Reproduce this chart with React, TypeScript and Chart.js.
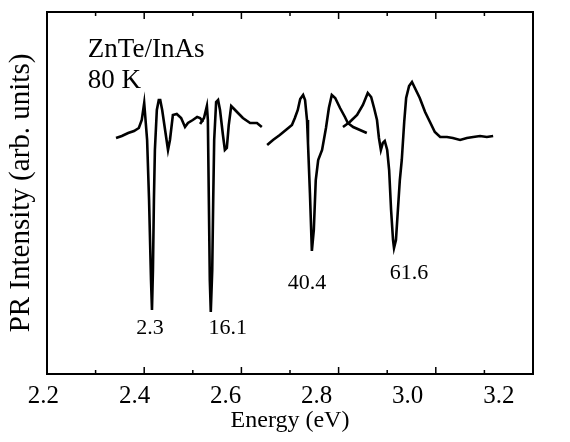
import React, { useEffect, useRef } from 'react';
import { Chart, registerables } from 'chart.js';

Chart.register(...registerables);

// ---- axis ----
const X_MIN = 2.2;
const X_MAX = 3.2;
const X_MINOR_STEP = 0.1;
const X_TICK_LABELS = ['2.2', '2.4', '2.6', '2.8', '3.0', '3.2'];
const LABEL_AXIS_MIN = 2.2077;
const LABEL_AXIS_MAX = 3.2751;
const Y_MIN = 0;
const Y_MAX = 3.62;
const X_TITLE = 'Energy (eV)';
const Y_TITLE = 'PR Intensity (arb. units)';

// ---- spectra (energy in eV, PR intensity in arb. units) ----
const E_2_3 = [2.342, 2.354, 2.367, 2.379, 2.389, 2.395, 2.4, 2.406, 2.41, 2.414, 2.416, 2.418, 2.42, 2.422, 2.426, 2.43, 2.433, 2.437, 2.443, 2.449, 2.453, 2.459, 2.467, 2.476, 2.484, 2.49, 2.5, 2.509, 2.515, 2.521];
const I_2_3 = [2.36, 2.38, 2.41, 2.43, 2.46, 2.54, 2.71, 2.34, 1.74, 0.94, 0.64, 1.04, 1.74, 2.24, 2.64, 2.74, 2.74, 2.64, 2.44, 2.24, 2.34, 2.59, 2.6, 2.56, 2.47, 2.51, 2.54, 2.57, 2.56, 2.52];

const E_16_1 = [2.515, 2.523, 2.529, 2.531, 2.533, 2.535, 2.537, 2.54, 2.542, 2.544, 2.548, 2.552, 2.556, 2.562, 2.566, 2.57, 2.574, 2.579, 2.585, 2.593, 2.603, 2.618, 2.632, 2.642];
const I_16_1 = [2.5, 2.56, 2.68, 2.54, 1.74, 0.94, 0.62, 1.04, 1.74, 2.34, 2.72, 2.74, 2.64, 2.39, 2.24, 2.26, 2.49, 2.68, 2.65, 2.61, 2.56, 2.51, 2.51, 2.47];

const E_40_4 = [2.653, 2.665, 2.679, 2.694, 2.704, 2.71, 2.716, 2.721, 2.727, 2.731, 2.735, 2.737, 2.741, 2.745, 2.749, 2.753, 2.758, 2.766, 2.774, 2.78, 2.786, 2.793, 2.803, 2.813, 2.819, 2.83, 2.844, 2.858];
const I_40_4 = [2.29, 2.34, 2.39, 2.45, 2.49, 2.56, 2.64, 2.75, 2.79, 2.74, 2.54, 2.31, 1.81, 1.23, 1.44, 1.94, 2.14, 2.24, 2.46, 2.66, 2.79, 2.76, 2.66, 2.57, 2.51, 2.47, 2.44, 2.41];

const E_61_6 = [2.809, 2.823, 2.838, 2.85, 2.86, 2.867, 2.873, 2.879, 2.883, 2.887, 2.891, 2.895, 2.9, 2.904, 2.908, 2.912, 2.914, 2.918, 2.922, 2.926, 2.93, 2.935, 2.939, 2.945, 2.951, 2.957, 2.967, 2.978, 2.988, 2.998, 3.009, 3.023, 3.035, 3.05, 3.064, 3.077, 3.091, 3.105, 3.118];
const I_61_6 = [2.47, 2.52, 2.59, 2.69, 2.81, 2.77, 2.66, 2.54, 2.36, 2.24, 2.31, 2.33, 2.24, 2.04, 1.64, 1.34, 1.26, 1.34, 1.64, 1.94, 2.14, 2.52, 2.76, 2.88, 2.92, 2.86, 2.76, 2.62, 2.52, 2.42, 2.37, 2.37, 2.36, 2.34, 2.36, 2.37, 2.38, 2.37, 2.38];

// ---- annotations ----
const SERIES_LABELS = ['2.3', '16.1', '40.4', '61.6'];
const SERIES_LABEL_X = [2.412, 2.572, 2.735, 2.945];
const SERIES_LABEL_Y = [0.46, 0.46, 0.91, 1.01];
const SAMPLE_TEXT = ['ZnTe/InAs', '80 K'];
const SAMPLE_TEXT_X = [2.284, 2.284];
const SAMPLE_TEXT_Y = [3.17, 2.86];

const FONT = '"Liberation Serif", "Times New Roman", serif';

const toPoints = (xs: number[], ys: number[]) => xs.map((x, i) => ({ x, y: ys[i] }));

const framePlugin = {
  id: 'frameAndText',
  afterDatasetsDraw(chart: any) {
    const { ctx, chartArea: a, scales } = chart;
    const xs = scales.x;
    const ys = scales.y;
    ctx.save();
    ctx.strokeStyle = '#000';
    ctx.lineWidth = 2;
    ctx.strokeRect(a.left, a.top, a.right - a.left, a.bottom - a.top);
    ctx.lineWidth = 1.5;
    const n = Math.round((X_MAX - X_MIN) / X_MINOR_STEP);
    for (let i = 1; i < n; i++) {
      const px = xs.getPixelForValue(X_MIN + i * X_MINOR_STEP);
      const len = i % 2 === 0 ? 7 : 4;
      ctx.beginPath();
      ctx.moveTo(px, a.bottom);
      ctx.lineTo(px, a.bottom - len);
      ctx.moveTo(px, a.top);
      ctx.lineTo(px, a.top + len);
      ctx.stroke();
    }
    ctx.fillStyle = '#000';
    ctx.font = `22px ${FONT}`;
    ctx.textAlign = 'center';
    ctx.textBaseline = 'middle';
    SERIES_LABELS.forEach((t, i) => {
      ctx.fillText(t, xs.getPixelForValue(SERIES_LABEL_X[i]), ys.getPixelForValue(SERIES_LABEL_Y[i]));
    });
    ctx.font = `27px ${FONT}`;
    ctx.textAlign = 'left';
    ctx.textBaseline = 'alphabetic';
    SAMPLE_TEXT.forEach((t, i) => {
      ctx.fillText(t, xs.getPixelForValue(SAMPLE_TEXT_X[i]), ys.getPixelForValue(SAMPLE_TEXT_Y[i]));
    });
    ctx.restore();
  },
};

export default function App() {
  const ref = useRef<HTMLCanvasElement | null>(null);
  useEffect(() => {
    document.body.style.margin = '0';
    const canvas = ref.current;
    if (!canvas) return;
    const lineStyle = { borderColor: '#000', borderWidth: 2.6, pointRadius: 0, fill: false, tension: 0 };
    const chart = new Chart(canvas, {
      type: 'line',
      data: {
        datasets: [
          { label: SERIES_LABELS[0], data: toPoints(E_2_3, I_2_3), ...lineStyle },
          { label: SERIES_LABELS[1], data: toPoints(E_16_1, I_16_1), ...lineStyle },
          { label: SERIES_LABELS[2], data: toPoints(E_40_4, I_40_4), ...lineStyle },
          { label: SERIES_LABELS[3], data: toPoints(E_61_6, I_61_6), ...lineStyle },
        ],
      },
      options: {
        animation: false,
        responsive: false,
        maintainAspectRatio: false,
        layout: { padding: { left: 0, right: 37, top: 12, bottom: 0 } },
        plugins: { legend: { display: false }, tooltip: { enabled: false } },
        scales: {
          x: { type: 'linear', min: X_MIN, max: X_MAX, display: false },
          xl: {
            type: 'linear',
            position: 'bottom',
            min: LABEL_AXIS_MIN,
            max: LABEL_AXIS_MAX,
            grid: { display: false, drawTicks: false },
            border: { display: false },
            afterBuildTicks: (s: any) => {
              s.ticks = X_TICK_LABELS.map((t) => ({ value: parseFloat(t) }));
            },
            ticks: {
              autoSkip: false,
              maxRotation: 0,
              padding: 7,
              color: '#000',
              font: { family: FONT, size: 25 },
              callback: (v: any) => Number(v).toFixed(1),
            },
            title: { display: true, text: X_TITLE, color: '#000', font: { family: FONT, size: 24 }, padding: { top: 0, bottom: 7 } },
            afterFit: (s: any) => { s.height = 68; },
          },
          y: {
            type: 'linear',
            min: Y_MIN,
            max: Y_MAX,
            grid: { display: false, drawTicks: false },
            border: { display: false },
            ticks: { display: false },
            title: { display: true, text: Y_TITLE, color: '#000', font: { family: FONT, size: 29 }, padding: { top: 4, bottom: 0 } },
            afterFit: (s: any) => { s.width = 47; },
          },
        },
      },
      plugins: [framePlugin],
    } as any);
    return () => chart.destroy();
  }, []);
  return <canvas ref={ref} width={570} height={442} style={{ display: 'block' }} />;
}
